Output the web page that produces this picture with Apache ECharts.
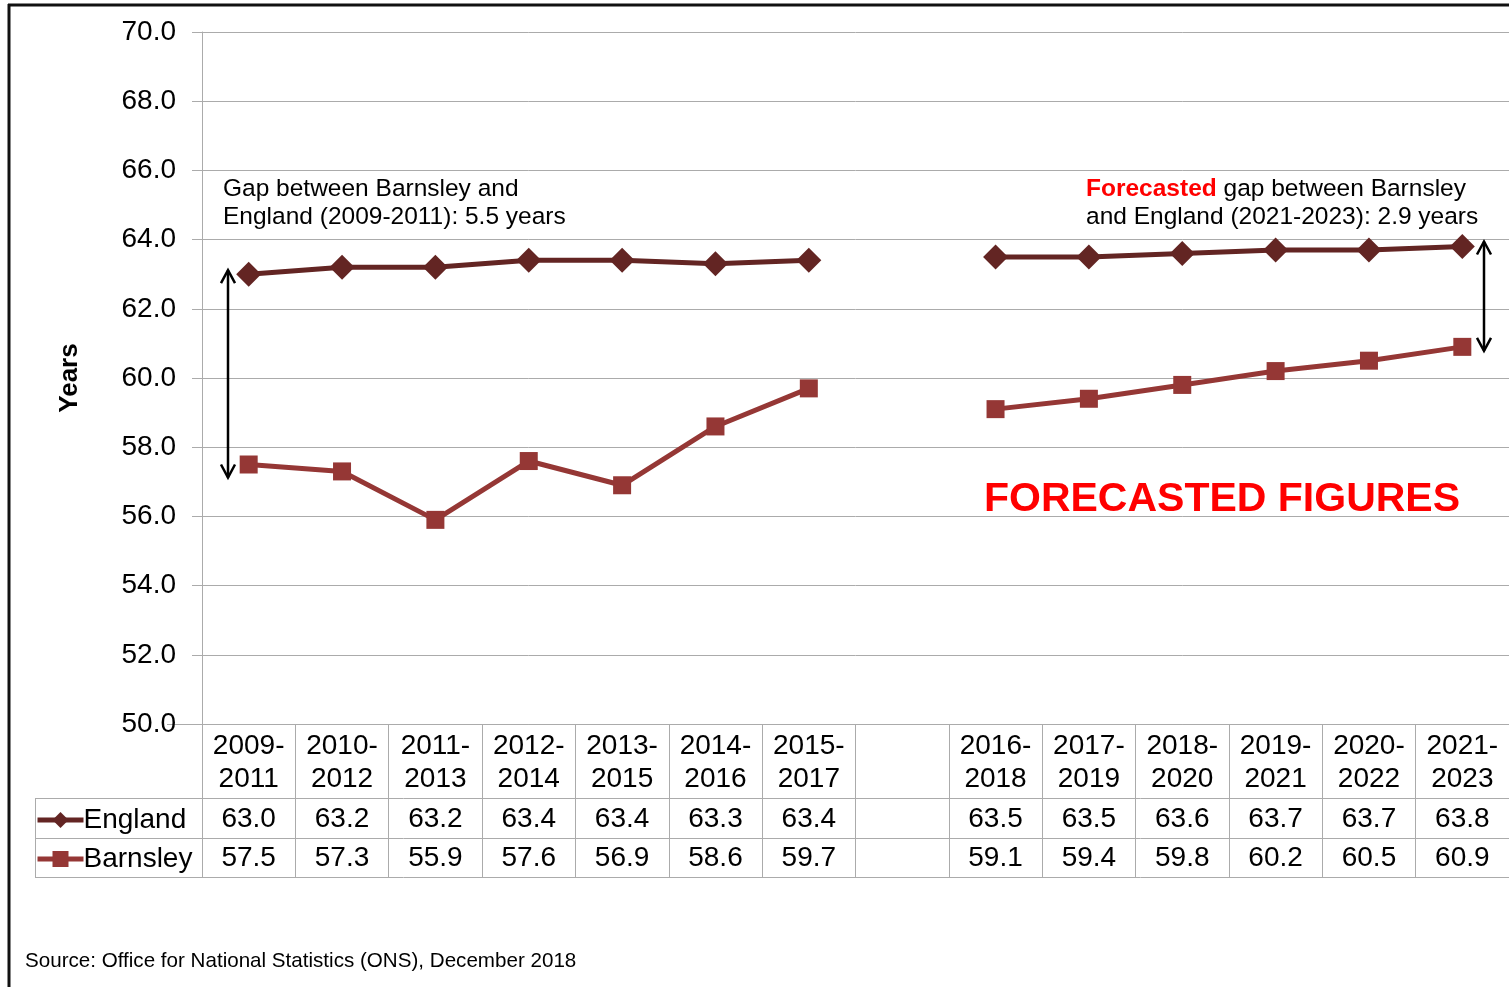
<!DOCTYPE html>
<html>
<head>
<meta charset="utf-8">
<script src="https://cdn.jsdelivr.net/npm/echarts@6/dist/echarts.min.js"></script>
<style>
    html, body { margin: 0; padding: 0; background: #fff; }
    #chart { width: 1509px; height: 987px; }
</style>
</head>
<body>
<div id="chart"></div>
<script>
// periods, with an empty slot between the actual and the forecast figures
var periods = ['2009-\n2011', '2010-\n2012', '2011-\n2013', '2012-\n2014', '2013-\n2015', '2014-\n2016', '2015-\n2017',
    '',
    '2016-\n2018', '2017-\n2019', '2018-\n2020', '2019-\n2021', '2020-\n2022', '2021-\n2023'];
var england = [63.0, 63.2, 63.2, 63.4, 63.4, 63.3, 63.4, null, 63.5, 63.5, 63.6, 63.7, 63.7, 63.8];
var barnsley = [57.5, 57.3, 55.9, 57.6, 56.9, 58.6, 59.7, null, 59.1, 59.4, 59.8, 60.2, 60.5, 60.9];
var yTicks = [50, 52, 54, 56, 58, 60, 62, 64, 66, 68, 70];

var FONT = 'Arial, "Liberation Sans", sans-serif';
var GRID = '#ababab';
var ENG_COL = '#632523';
var BAR_COL = '#953735';

function fmt(arr) {
    return arr.map(function (v) { return v == null ? '' : v.toFixed(1); });
}

var chart = echarts.init(document.getElementById('chart'));

// value rows of the data table are drawn as extra category axes under the grid
function tableRow(values, offset) {
    return {
        type: 'category',
        gridIndex: 0,
        position: 'bottom',
        offset: offset,
        data: fmt(values),
        axisLine: { show: false },
        axisTick: { show: false },
        axisLabel: { interval: 0, margin: 0, fontSize: 28, lineHeight: 30, color: '#000', fontFamily: FONT }
    };
}

chart.setOption({
    animation: false,
    textStyle: { fontFamily: FONT },
    grid: { left: 202, right: 0, top: 32, bottom: 263 },
    legend: {
        orient: 'vertical',
        left: 30,
        top: 800,
        itemWidth: 46,
        itemHeight: 20,
        itemGap: 9,
        lineStyle: { width: 5 },
        textStyle: { fontSize: 28, lineHeight: 30, color: '#000', fontFamily: FONT, padding: [0, 0, 0, -5] },
        data: ['England', 'Barnsley']
    },
    xAxis: [
        {
            type: 'category',
            data: periods,
            boundaryGap: true,
            axisLine: { lineStyle: { color: GRID, width: 1 } },
            axisTick: { show: true, interval: 0, length: 153, lineStyle: { color: GRID, width: 1 } },
            axisLabel: { interval: 0, margin: 6, fontSize: 28, lineHeight: 33, color: '#000', fontFamily: FONT }
        },
        tableRow(england, 80),
        tableRow(barnsley, 119)
    ],
    yAxis: {
        type: 'value',
        min: yTicks[0],
        max: yTicks[yTicks.length - 1],
        interval: 2,
        name: 'Years',
        nameLocation: 'middle',
        nameRotate: 90,
        nameGap: 119,
        nameTextStyle: { fontSize: 26, fontWeight: 'bold', color: '#000', fontFamily: FONT },
        axisLine: { show: true, lineStyle: { color: GRID, width: 1 } },
        axisTick: { show: true, length: 10, lineStyle: { color: GRID } },
        axisLabel: { fontSize: 28, color: '#000', margin: 26, fontFamily: FONT,
            formatter: function (v) { return v.toFixed(1); } },
        splitLine: { lineStyle: { color: GRID, width: 1 } }
    },
    series: [
        {
            name: 'England',
            type: 'line',
            data: england,
            connectNulls: false,
            symbol: 'diamond',
            symbolSize: 25,
            lineStyle: { color: ENG_COL, width: 5 },
            itemStyle: { color: ENG_COL }
        },
        {
            name: 'Barnsley',
            type: 'line',
            data: barnsley,
            connectNulls: false,
            symbol: 'rect',
            symbolSize: 18,
            lineStyle: { color: BAR_COL, width: 5 },
            itemStyle: { color: BAR_COL }
        }
    ]
});

// annotations, arrows and table borders
function px(idx, val) {
    return chart.convertToPixel({ gridIndex: 0 }, [idx, val]);
}
function arrow(x, y1, y2) {
    var h = 9, w = 7;
    return {
        type: 'group',
        children: [
            { type: 'line', shape: { x1: x, y1: y1, x2: x, y2: y2 }, style: { stroke: '#000', lineWidth: 2.5 } },
            { type: 'polyline', shape: { points: [[x - w, y1 + h + 4], [x, y1], [x + w, y1 + h + 4]] }, style: { stroke: '#000', lineWidth: 2.5, fill: null } },
            { type: 'polyline', shape: { points: [[x - w, y2 - h - 4], [x, y2], [x + w, y2 - h - 4]] }, style: { stroke: '#000', lineWidth: 2.5, fill: null } }
        ]
    };
}
function hline(x1, x2, y, color, width) {
    return { type: 'line', shape: { x1: x1, y1: y, x2: x2, y2: y }, style: { stroke: color, lineWidth: width } };
}
function vline(x, y1, y2, color, width) {
    return { type: 'line', shape: { x1: x, y1: y1, x2: x, y2: y2 }, style: { stroke: color, lineWidth: width } };
}

var first = 0, last = periods.length - 1;
var lTop = px(first, england[first])[1] - 4;
var lBot = px(first, barnsley[first])[1] + 13;
var rTop = px(last, england[last])[1] - 5;
var rBot = px(last, barnsley[last])[1] + 4;
var axisY = px(first, yTicks[0])[1];

chart.setOption({
    graphic: [
        // outer frame
        hline(8, 1509, 5, '#111', 3),
        vline(9, 4, 987, '#111', 3),
        // table borders
        hline(167, 202, axisY + 0.5, GRID, 1),
        hline(35, 1509, 798.5, GRID, 1),
        hline(35, 1509, 838.5, GRID, 1),
        hline(35, 1509, 877.5, GRID, 1),
        vline(35.5, 798, 878, GRID, 1),
        // gap arrows
        arrow(228, lTop, lBot),
        arrow(1484, rTop, rBot),
        {
            type: 'text', left: 223, top: 175,
            style: { text: 'Gap between Barnsley and\nEngland (2009-2011): 5.5 years', fontSize: 24.5, lineHeight: 28, fill: '#000', fontFamily: FONT }
        },
        {
            type: 'text', left: 1086, top: 175,
            style: {
                text: '{r|Forecasted} gap between Barnsley\nand England (2021-2023): 2.9 years',
                fontSize: 24.5, lineHeight: 28, fill: '#000', fontFamily: FONT,
                rich: { r: { fontSize: 24.5, lineHeight: 28, fill: '#ff0000', fontWeight: 'bold', fontFamily: FONT } }
            }
        },
        {
            type: 'text', x: 1222, y: 500,
            style: { text: 'FORECASTED FIGURES', fontSize: 41, fontWeight: 'bold', fill: '#ff0000', fontFamily: FONT,
                textAlign: 'center', textVerticalAlign: 'middle' }
        },
        {
            type: 'text', left: 25, top: 951,
            style: { text: 'Source: Office for National Statistics (ONS), December 2018', fontSize: 20.6, fill: '#000', fontFamily: FONT }
        }
    ]
});
</script>
</body>
</html>
